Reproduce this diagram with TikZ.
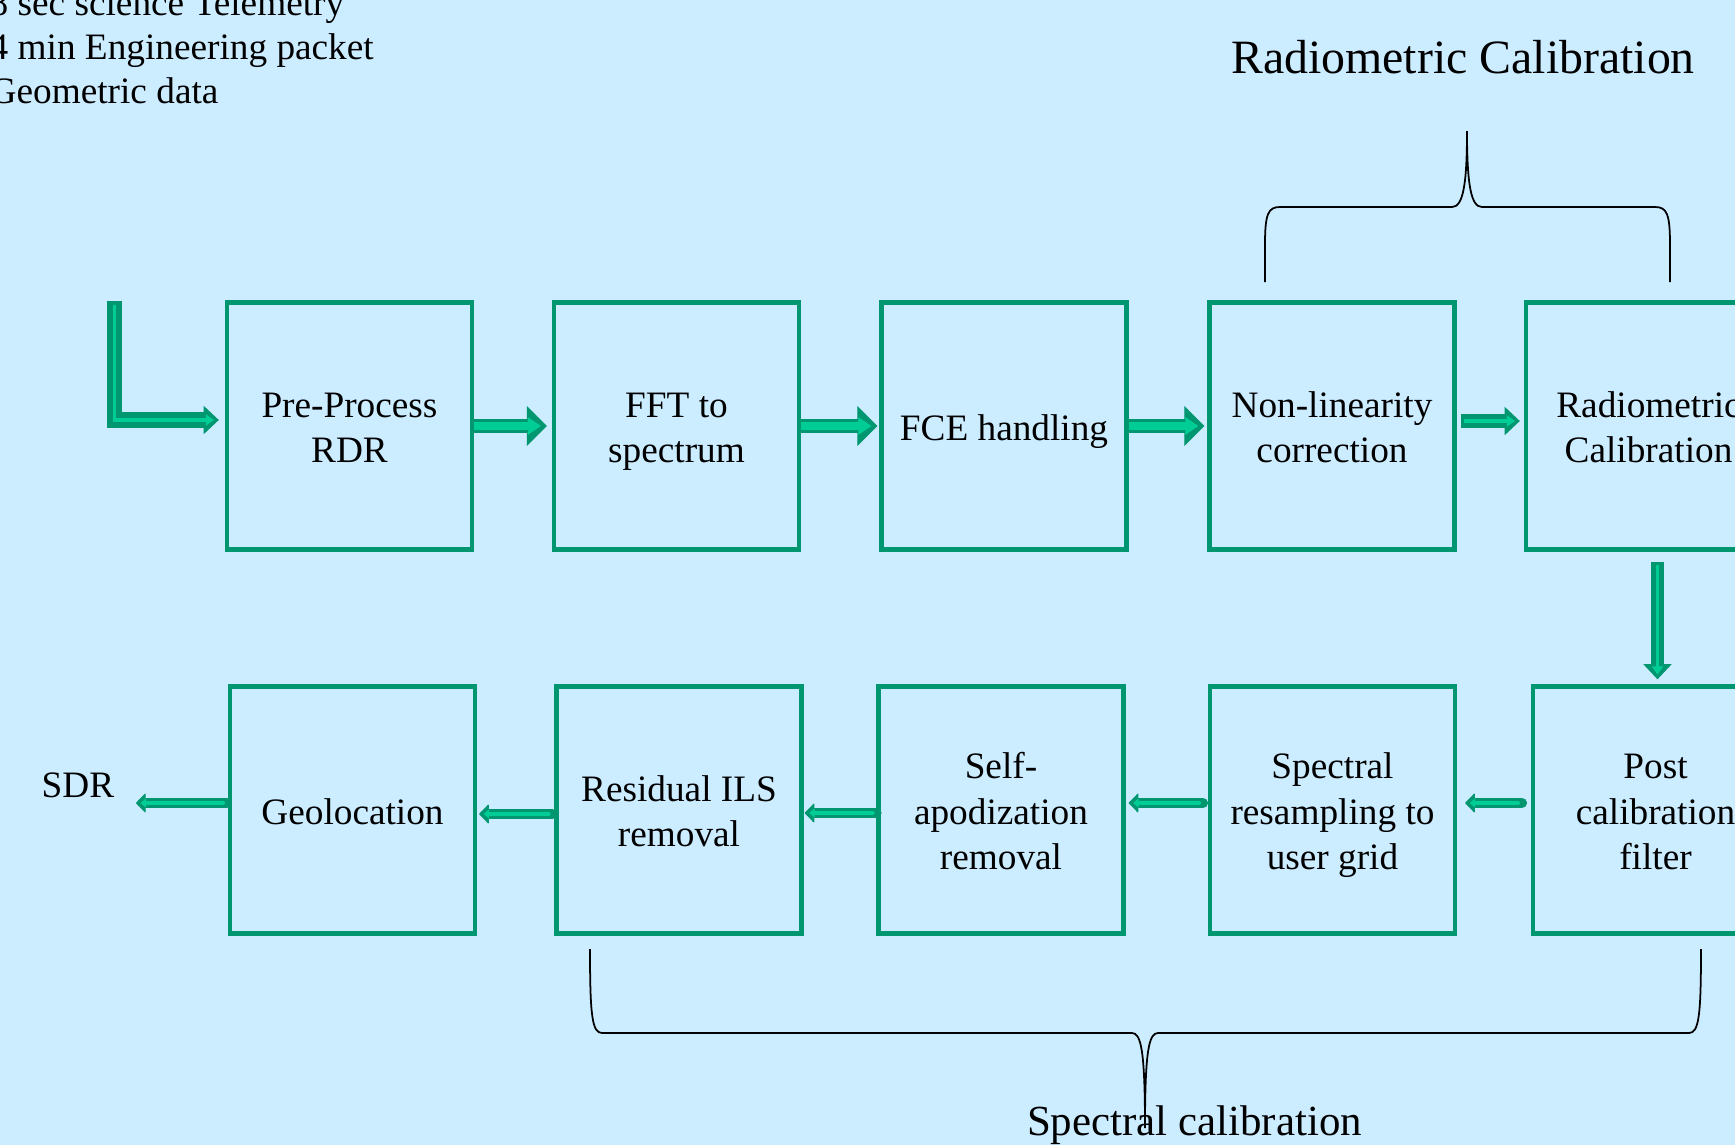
\documentclass[tikz,border=0pt]{standalone}
\usepackage{fontspec}
\setmainfont{Liberation Serif}
\usepackage{tikz}
\usetikzlibrary{calc, arrows.meta, positioning}
\definecolor{bgblue}{RGB}{204,236,255}
\definecolor{boxgreen}{RGB}{0,150,112}
\definecolor{flowlight}{RGB}{0,204,150}
\newcommand\boxfont{\fontsize{10.6pt}{12.8pt}\selectfont}
\newcommand\stagebox[4]{\node[stagenode] (#1) at (#2,#3) {\rule{0pt}{11.8pt}#4\rule[-3.84pt]{0pt}{3.84pt}};}
\tikzset{
  stagenode/.style={draw=boxgreen, line width=1.2pt, minimum width=2.45cm, minimum height=2.47cm, inner sep=0pt, align=center, font=\boxfont},
  flowbig/.style={draw=boxgreen, line width=4.1pt, -{Triangle[length=5.7pt, width=11.4pt, line width=0.3pt]},
    postaction={draw=flowlight, line width=2.2pt, shorten >=1.7pt, -{Triangle[length=3.7pt, width=5pt, line width=0.3pt]}}},
  flowmid/.style={draw=boxgreen, line width=3.7pt, -{Triangle[length=4.3pt, width=8pt, line width=0.3pt]},
    postaction={draw=flowlight, line width=1.1pt, shorten >=1.4pt, shorten <=1pt, -{Triangle[length=2.3pt, width=3.2pt, line width=0.3pt]}}},
  flowfeed/.style={flowmid, line width=4.3pt, line join=miter},
  flowsmall/.style={draw=boxgreen, line width=3pt, line cap=round, line join=round, -{Triangle[round, length=2.8pt, width=5.7pt, line width=0.3pt]},
    postaction={draw=flowlight, line width=1pt, shorten >=1.3pt, shorten <=1pt, -{Triangle[length=1.5pt, width=2.5pt, line width=0.3pt]}}},
  bracepen/.style={draw=black, line width=0.5pt},
}

\begin{document}
\begin{tikzpicture}[x=0.01cm, y=-0.01cm]
\useasboundingbox (0,0) rectangle (1735,1145);
\clip (0,0) rectangle (1735,1145);
\fill[bgblue] (0,0) rectangle (1735,1145);

% input text, top left
\foreach \feedtxt [count=\i] in {8 sec science Telemetry, 4 min Engineering packet, Geometric data}
  \node[anchor=base west, inner sep=0pt, font=\boxfont] (feed\i) at (-11,{15+44*(\i-1)}) {\feedtxt};

% upper row
\stagebox{pre}{349.5}{426}{Pre-Process\\RDR};
\stagebox{fft}{676.5}{426}{FFT to\\spectrum};
\stagebox{fce}{1004}{426}{FCE handling};
\stagebox{nonlin}{1332}{426}{Non-linearity\\correction};
\stagebox{radcal}{1648.5}{426}{Radiometric\\Calibration};

% lower row
\stagebox{postfilt}{1655.5}{810}{Post\\calibration\\filter};
\stagebox{resamp}{1332.5}{810}{Spectral\\resampling to\\user grid};
\stagebox{selfapod}{1001}{810}{Self-\\apodization\\removal};
\stagebox{resils}{679}{810}{Residual ILS\\removal};
\stagebox{geoloc}{352.5}{810}{Geolocation};

\node[anchor=base, inner sep=0pt, font=\boxfont] (sdr) at (78,797) {SDR};
\coordinate (sdrtip) at (136,803);
\coordinate (rdrfeed) at (114.5,301);

% flow
\draw[flowfeed] (rdrfeed) |- ($(pre.west)+(-6,-6)$);
\draw[flowbig] (pre.east) -- ($(fft.west)+(-5,0)$);
\draw[flowbig] (fft.east) -- ($(fce.west)+(-2,0)$);
\draw[flowbig] (fce.east) -- ($(nonlin.west)+(-3,0)$);
\draw[flowmid] ($(nonlin.east)+(4,-5)$) -- ($(radcal.west)+(-4,-5)$);
\draw[flowmid] ($(radcal.south -| postfilt.north)+(2,10)$) -- ($(postfilt.north)+(2,-5)$);
\draw[flowsmall] ($(postfilt.west)+(-9,-7)$) -- ($(resamp.east)+(8,-7)$);
\draw[flowsmall] ($(resamp.west)+(-5,-7)$) -- ($(selfapod.east)+(3,-7)$);
\draw[flowsmall] ($(selfapod.west)+(0,3)$) -- ($(resils.east)+(1,3)$);
\draw[flowsmall] ($(resils.west)+(-2,4)$) -- ($(geoloc.east)+(2,4)$);
\draw[flowsmall] ($(geoloc.west)+(-1,-7)$) -- (sdrtip);

% braces
\node[anchor=base, inner sep=0pt, font=\fontsize{13.6pt}{16pt}\selectfont] (radtitle) at (1463,73) {Radiometric Calibration};
\draw[bracepen] (1265,282) -- (1265,245) .. controls (1265,214) and (1268,207) .. (1280,207) -- (1452,207)
  .. controls (1463,207) and (1467,185) .. (1467,131) .. controls (1467,185) and (1471,207) .. (1482,207)
  -- (1655,207) .. controls (1667,207) and (1670,214) .. (1670,245) -- (1670,282);

\node[anchor=base, inner sep=0pt, font=\fontsize{12.2pt}{14pt}\selectfont] (spectitle) at (1194.5,1135) {Spectral calibration};
\draw[bracepen] (590,949) .. controls (590,1015) and (592,1033) .. (602,1033) -- (1132,1033)
  .. controls (1141,1033) and (1145,1050) .. (1145,1128) .. controls (1145,1050) and (1149,1033) .. (1158,1033)
  -- (1689,1033) .. controls (1699,1033) and (1701,1015) .. (1701,949);

\end{tikzpicture}
\end{document}
